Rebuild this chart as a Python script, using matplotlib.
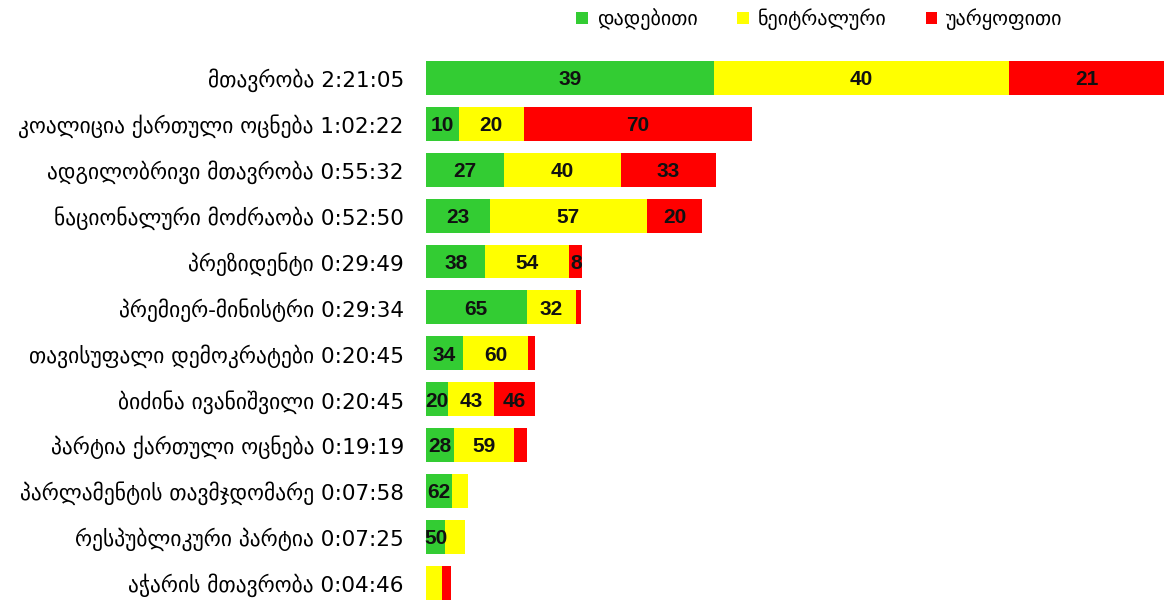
import matplotlib
matplotlib.use('Agg')
import matplotlib.pyplot as plt
from matplotlib.patches import Patch

plt.rcParams['font.family'] = ['DejaVu Sans']

# ---- data ----
names = ["მთავრობა", "კოალიცია ქართული ოცნება", "ადგილობრივი მთავრობა",
         "ნაციონალური მოძრაობა", "პრეზიდენტი", "პრემიერ-მინისტრი",
         "თავისუფალი დემოკრატები", "ბიძინა ივანიშვილი",
         "პარტია ქართული ოცნება", "პარლამენტის თავმჯდომარე",
         "რესპუბლიკური პარტია", "აჭარის მთავრობა"]
durations = ["2:21:05", "1:02:22", "0:55:32", "0:52:50", "0:29:49", "0:29:34",
             "0:20:45", "0:20:45", "0:19:19", "0:07:58", "0:07:25", "0:04:46"]
positive = [39, 10, 27, 23, 38, 65, 34, 20, 28, 62, 50, 0]
neutral = [40, 20, 40, 57, 54, 32, 60, 43, 59, 38, 50, 64]
negative = [21, 70, 33, 20, 8, 3, 6, 37, 13, 0, 0, 36]
# labels printed on the bars ("" = no label)
pos_labels = ["39", "10", "27", "23", "38", "65", "34", "20", "28", "62", "50", ""]
neu_labels = ["40", "20", "40", "57", "54", "32", "60", "43", "59", "", "", ""]
neg_labels = ["21", "70", "33", "20", "8", "", "", "46", "", "", "", ""]

legend_names = ["დადებითი", "ნეიტრალური", "უარყოფითი"]
colors = ['#33cc33', '#ffff00', '#ff0000']


def to_sec(s):
    h, m, sec = s.split(":")
    return int(h) * 3600 + int(m) * 60 + int(sec)


secs = [to_sec(d) for d in durations]
ylabels = [f"{n} {d}" for n, d in zip(names, durations)]

fig = plt.figure(figsize=(11.69, 6.02), dpi=100)
ax = fig.add_axes([426 / 1169, 0.0, 740 / 1169, 547 / 602])

ypos = list(range(len(names)))
left = [0.0] * len(names)
for vals, labs, col in zip((positive, neutral, negative),
                           (pos_labels, neu_labels, neg_labels), colors):
    widths = [v / 100 * t for v, t in zip(vals, secs)]
    ax.barh(ypos, widths, left=left, height=0.74, color=col, linewidth=0)
    for i, (w, l, lab) in enumerate(zip(widths, left, labs)):
        if lab:
            ax.text(l + w / 2, i + 0.16, lab, ha='center', va='baseline',
                    fontsize=15, fontweight='bold', family='Liberation Sans',
                    color='#111111')
    left = [l + w for l, w in zip(left, widths)]

ax.set_xlim(0, max(secs) * 740 / 738)
ax.set_ylim(11.42, -0.5)
ax.set_yticks(ypos)
ax.set_yticklabels(ylabels, fontsize=15.5)
ax.tick_params(axis='y', length=0, pad=16)
ax.set_xticks([])
for sp in ax.spines.values():
    sp.set_visible(False)

handles = [Patch(facecolor=c, edgecolor='none') for c in colors]
fig.legend(handles, legend_names, loc='center', bbox_to_anchor=(0.701, 0.968),
           ncol=3, frameon=False, fontsize=14.5, handlelength=0.58,
           handleheight=0.58, handletextpad=0.45, columnspacing=1.95)

plt.savefig('out.png', dpi=100)
plt.close()
